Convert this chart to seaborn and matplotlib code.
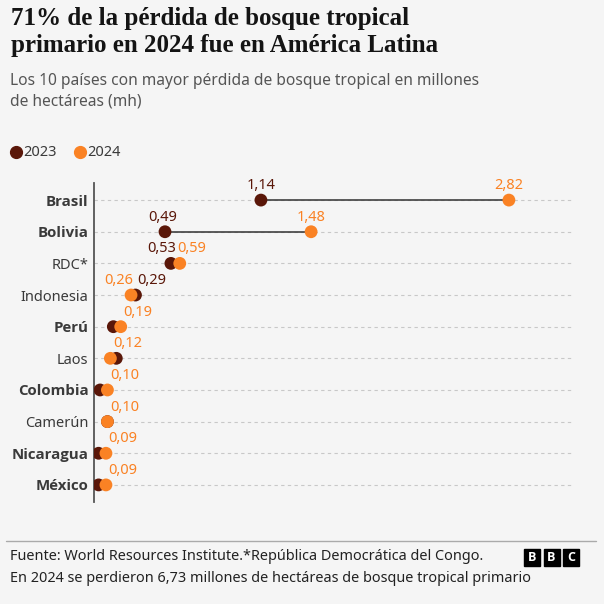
import pandas as pd
import seaborn as sns
import matplotlib.pyplot as plt
from matplotlib.patches import Rectangle
from matplotlib.lines import Line2D

# datos (millones de hectáreas)
countries = ["Brasil", "Bolivia", "RDC*", "Indonesia", "Perú", "Laos",
             "Colombia", "Camerún", "Nicaragua", "México"]
loss_2023 = [1.14, 0.49, 0.53, 0.29, 0.14, 0.16, 0.05, 0.10, 0.04, 0.04]
loss_2024 = [2.82, 1.48, 0.59, 0.26, 0.19, 0.12, 0.10, 0.10, 0.09, 0.09]
latam = [True, True, False, False, True, False, True, False, True, True]
labels_2023 = ["1,14", "0,49", "0,53", "0,29", "", "", "", "", "", ""]
labels_2024 = ["2,82", "1,48", "0,59", "0,26", "0,19", "0,12", "0,10", "0,10", "0,09", "0,09"]

df = pd.DataFrame({"país": countries, "2023": loss_2023, "2024": loss_2024})
long = df.melt(id_vars="país", var_name="año", value_name="mh")

BG = "#f5f5f5"
DARK = "#5a1709"
ORANGE = "#fa8224"
TXT = "#3a3a3a"

sns.set_theme(style="white")
plt.rcParams["font.family"] = ["Noto Sans", "DejaVu Sans"]

W = H = 604
fig = plt.figure(figsize=(6.04, 6.04), dpi=100, facecolor=BG)
ax = fig.add_axes([94 / W, 1 - 502 / H, 478 / W, 319 / H], facecolor=BG)

def fy(py):
    return 1 - py / H

# lineas guia
for i in range(len(countries)):
    ax.axhline(i, color="#c8c8c8", lw=0.8, ls=(0, (3, 3)), zorder=0)

# conectores
ax.hlines(df["país"], df["2023"], df["2024"], color="#404040", lw=1.2, zorder=1)

sns.scatterplot(data=long, x="mh", y="país", hue="año",
                palette={"2023": DARK, "2024": ORANGE},
                s=85, linewidth=0, legend=False, ax=ax, zorder=3)

ax.set_xlim(0.009, 0.009 + 478 / 147.6)
ax.set_ylim(9.54, -0.54)
ax.set_xlabel("")
ax.set_ylabel("")
ax.set_xticks([])
ax.set_yticks(range(len(countries)))
ax.set_yticklabels(countries)
for s in ["top", "right", "bottom"]:
    ax.spines[s].set_visible(False)
ax.spines["left"].set_color("#555555")
ax.spines["left"].set_linewidth(1.3)
ax.tick_params(axis="y", length=0, pad=4, labelsize=10.5, labelcolor=TXT)
# Noto Sans no trae negrita: los países latinoamericanos van en Open Sans bold
for lab, bold in zip(ax.get_yticklabels(), latam):
    if bold:
        lab.set_fontfamily(["Open Sans", "DejaVu Sans"])
        lab.set_fontweight("bold")
        lab.set_fontsize(10.8)

# etiquetas de valores
align_2023 = {0: ("center", 0), 1: ("center", -2), 2: ("right", 4), 3: ("left", 1.5)}
for i, (v, t) in enumerate(zip(loss_2023, labels_2023)):
    if t:
        ha, dx = align_2023[i]
        ax.annotate(t, (v, i), xytext=(dx, 5), textcoords="offset points",
                    ha=ha, va="bottom", color=DARK, fontsize=10.5)
align_2024 = {0: ("center", 0), 1: ("center", 0), 2: ("left", -2), 3: ("right", 1.5)}
for i, (v, t) in enumerate(zip(loss_2024, labels_2024)):
    ha, dx = align_2024.get(i, ("left", 2))
    ax.annotate(t, (v, i), xytext=(dx, 5), textcoords="offset points",
                ha=ha, va="bottom", color=ORANGE, fontsize=10.5)

# titulo y subtitulo
fig.text(11 / W, fy(7), "71% de la pérdida de bosque tropical\nprimario en 2024 fue en América Latina",
         ha="left", va="top", fontsize=18, fontweight="bold", family="Liberation Serif",
         color="#141414", linespacing=1.2)
fig.text(10 / W, fy(73), "Los 10 países con mayor pérdida de bosque tropical en millones\nde hectáreas (mh)",
         ha="left", va="top", fontsize=11.2, color="#555555", linespacing=1.4)

# leyenda
for px, col, yr in [(16, DARK, "2023"), (80, ORANGE, "2024")]:
    fig.add_artist(Line2D([px / W], [fy(152)], marker="o", ls="", color=col, markersize=8.5))
    fig.text((px + 7) / W, fy(152), yr, ha="left", va="center", fontsize=10.5, color=TXT)

# pie
fig.add_artist(Line2D([6 / W, 596 / W], [fy(541), fy(541)], color="#aaaaaa", lw=1))
fig.text(10 / W, fy(556), "Fuente: World Resources Institute.*República Democrática del Congo.",
         ha="left", va="center", fontsize=10.4, color="#222222")
fig.text(10 / W, fy(578), "En 2024 se perdieron 6,73 millones de hectáreas de bosque tropical primario",
         ha="left", va="center", fontsize=10.4, color="#222222")
for k, ch in enumerate("BBC"):
    x0 = 524 + k * 19.5
    fig.add_artist(Rectangle((x0 / W, fy(566)), 16 / W, 17 / H, color="black",
                             transform=fig.transFigure))
    fig.text((x0 + 8) / W, fy(557.5), ch, ha="center", va="center", color="white",
             fontsize=9, fontweight="bold", family=["Open Sans", "DejaVu Sans"])

fig.savefig("out.png", dpi=100, facecolor=BG)
